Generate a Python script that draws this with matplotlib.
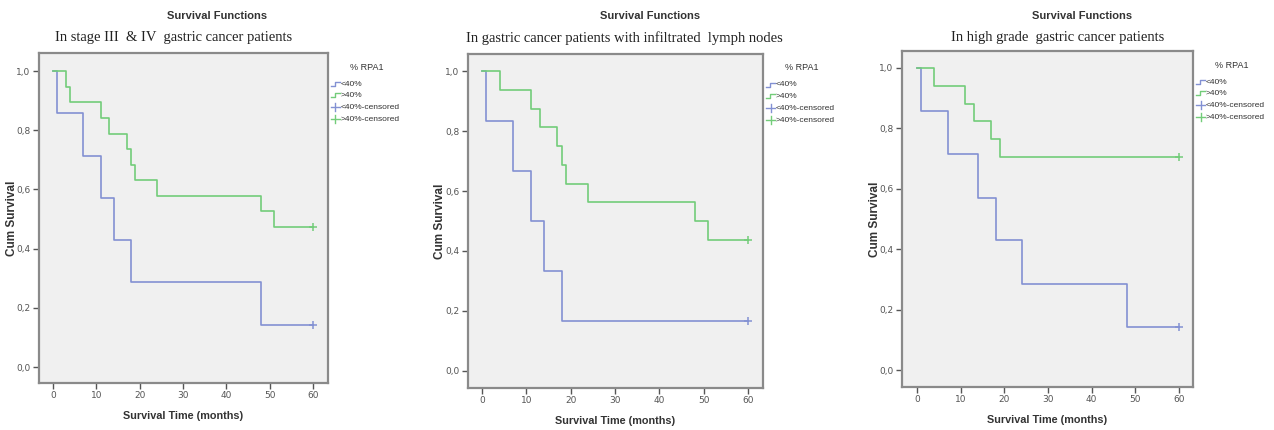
"""Kaplan-Meier survival curves by %RPA1 in three gastric cancer subgroups."""

import matplotlib

matplotlib.use("Agg")
import matplotlib.pyplot as plt  # noqa: E402

W, H = 1274, 430

SUPTITLE = "Survival Functions"
SUBTITLES = [
    "In stage III  & IV  gastric cancer patients",
    "In gastric cancer patients with infiltrated  lymph nodes",
    "In high grade  gastric cancer patients",
]
LEGEND_TITLE = "% RPA1"
LEGEND_LABELS = ["<40%", ">40%", "<40%-censored", ">40%-censored"]
XTICKS = [0, 10, 20, 30, 40, 50, 60]
YTICKS = [0.0, 0.2, 0.4, 0.6, 0.8, 1.0]
YTICKLABELS = ["0,0", "0,2", "0,4", "0,6", "0,8", "1,0"]

# step times (months) and survival after each step, per panel
LOW_TIMES = [
    [0, 1, 7, 11, 14, 18, 48, 60],
    [0, 1, 7, 11, 14, 18, 60],
    [0, 1, 7, 14, 18, 24, 48, 60],
]
LOW_SURV = [
    [1.0, 0.857, 0.714, 0.571, 0.429, 0.286, 0.143, 0.143],
    [1.0, 0.833, 0.667, 0.5, 0.333, 0.167, 0.167],
    [1.0, 0.857, 0.714, 0.571, 0.429, 0.286, 0.143, 0.143],
]
HIGH_TIMES = [
    [0, 3, 4, 11, 13, 17, 18, 19, 24, 48, 51, 60],
    [0, 4, 11, 13, 17, 18, 19, 24, 48, 51, 60],
    [0, 4, 11, 13, 17, 19, 60],
]
HIGH_SURV = [
    [1.0, 0.947, 0.895, 0.842, 0.789, 0.737, 0.684, 0.632, 0.579, 0.526,
     0.474, 0.474],
    [1.0, 0.9375, 0.875, 0.8125, 0.75, 0.6875, 0.625, 0.5625, 0.5, 0.4375,
     0.4375],
    [1.0, 0.941, 0.882, 0.824, 0.765, 0.706, 0.706],
]

BLUE = "#8391d3"
GREEN = "#73cc7a"

# axes boxes in pixels: left, top, right, bottom
BOXES = [(39, 53, 328, 383), (468, 54, 763, 388), (902, 51, 1193, 387)]
TITLE_X = [217, 650, 1082]
SUB_X = [174, 624, 1058]
YLABEL_X = [12, 440, 875]
XLIMS = [(-3.23, 63.5), (-3.16, 63.4), (-3.43, 63.2)]
YLIMS = [(-0.054, 1.061), (-0.057, 1.057), (-0.056, 1.056)]

fig = plt.figure(figsize=(W / 100, H / 100), dpi=100)


def fx(px):
    return px / W


def fy(py):
    return 1 - py / H


for i in range(3):
    l, t, r, b = BOXES[i]
    ax = fig.add_axes([fx(l), fy(b), fx(r - l), (b - t) / H])
    ax.set_facecolor("#f0f0f0")
    for s in ax.spines.values():
        s.set_color("#8a8a8a")
        s.set_linewidth(1.6)

    ax.step(LOW_TIMES[i], LOW_SURV[i], where="post", color=BLUE, lw=1.2)
    ax.step(HIGH_TIMES[i], HIGH_SURV[i], where="post", color=GREEN, lw=1.2)
    ax.plot(LOW_TIMES[i][-1], LOW_SURV[i][-1], marker="+", color=BLUE,
            ms=6, mew=1.1)
    ax.plot(HIGH_TIMES[i][-1], HIGH_SURV[i][-1], marker="+", color=GREEN,
            ms=6, mew=1.1)

    ax.set_xlim(*XLIMS[i])
    ax.set_ylim(*YLIMS[i])
    ax.set_xticks(XTICKS)
    ax.set_yticks(YTICKS)
    ax.set_yticklabels(YTICKLABELS)
    ax.tick_params(direction="out", length=4, width=1, color="#555555",
                   labelsize=6.5, labelcolor="#555555", pad=2)
    ax.set_xlabel("Survival Time (months)", fontsize=7.8, fontweight="bold",
                  family="Liberation Sans", color="#333333", labelpad=8)
    ax.set_ylabel("Cum Survival", fontsize=8.5, fontweight="bold",
                  family="Liberation Sans", color="#333333", va="center")
    ax.yaxis.set_label_coords((YLABEL_X[i] - l) / (r - l), 0.5)

    fig.text(fx(TITLE_X[i]), fy(16), SUPTITLE, ha="center", va="center",
             fontsize=8, fontweight="bold", family="Liberation Sans",
             color="#333333")
    fig.text(fx(SUB_X[i]), fy(38), SUBTITLES[i], ha="center", va="center",
             fontsize=10.5, family="Liberation Serif", color="#222222")

    # legend, drawn by hand to mimic SPSS
    lx = r + 3
    ly = t + 14
    fig.text(fx(lx + 19), fy(ly), LEGEND_TITLE, ha="left", va="center",
             fontsize=6.5, family="Liberation Sans", color="#333333")
    colors = [BLUE, GREEN, BLUE, GREEN]
    for k in range(4):
        yy = ly + 17 + k * 11.7
        c = colors[k]
        if k < 2:
            xs = [lx, lx + 4, lx + 4, lx + 9]
            ys = [yy + 1.5, yy + 1.5, yy - 2.5, yy - 2.5]
            fig.add_artist(plt.Line2D([fx(v) for v in xs], [fy(v) for v in ys],
                                      color=c, lw=1.0))
        else:
            fig.add_artist(plt.Line2D([fx(lx), fx(lx + 9)], [fy(yy), fy(yy)],
                                      color=c, lw=1.0))
            fig.add_artist(plt.Line2D([fx(lx + 4.5), fx(lx + 4.5)],
                                      [fy(yy - 4), fy(yy + 4)],
                                      color=c, lw=1.0))
        fig.text(fx(lx + 10), fy(yy), LEGEND_LABELS[k], ha="left",
                 va="center", fontsize=6, family="Liberation Sans",
                 color="#333333")

fig.savefig("out.png", dpi=100, facecolor="white")
